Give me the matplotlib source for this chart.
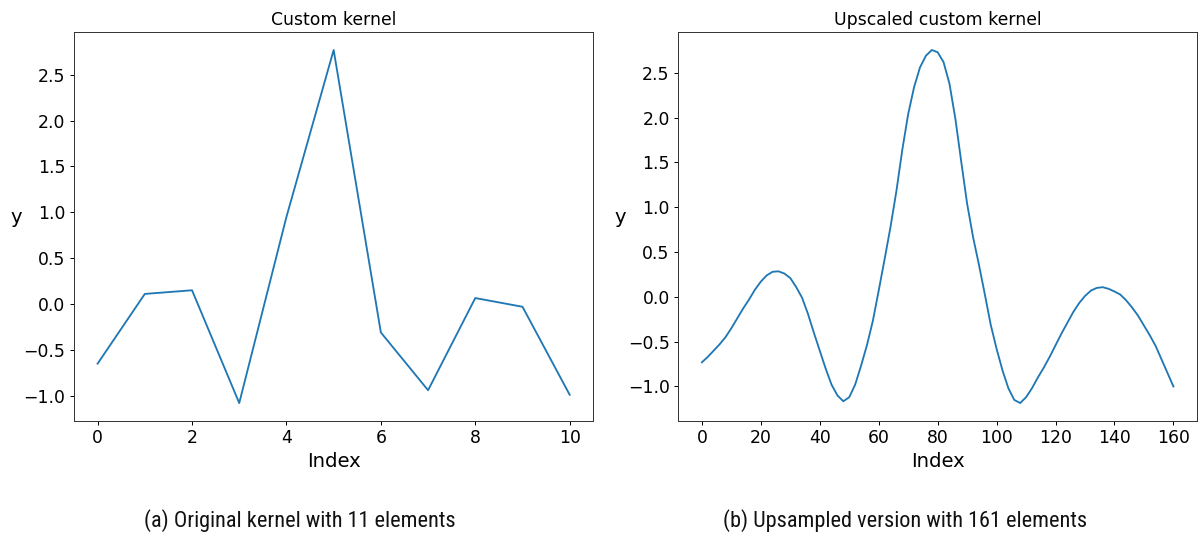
import matplotlib
matplotlib.use("Agg")
import matplotlib.pyplot as plt
from matplotlib import font_manager

# Original 11-tap kernel
kernel_index = [0, 1, 2, 3, 4, 5, 6, 7, 8, 9, 10]
kernel_values = [-0.65, 0.11, 0.15, -1.08, 0.95, 2.77, -0.31, -0.94, 0.065, -0.03, -0.99]

# Upsampled kernel (161 samples), taken every second sample
upsampled_index = list(range(0, 161, 2))
upsampled_values = [
    -0.73, -0.67, -0.60, -0.53, -0.45, -0.35, -0.24, -0.13, -0.03, 0.08,    # 0-18
    0.17, 0.24, 0.28, 0.285, 0.26, 0.21, 0.11, -0.01, -0.19, -0.40,         # 20-38
    -0.60, -0.80, -0.98, -1.10, -1.165, -1.12, -0.98, -0.77, -0.54, -0.27,  # 40-58
    0.07, 0.42, 0.78, 1.18, 1.64, 2.04, 2.34, 2.56, 2.69, 2.755,            # 60-78
    2.73, 2.62, 2.38, 1.99, 1.51, 1.04, 0.67, 0.36, 0.03, -0.31,            # 80-98
    -0.58, -0.82, -1.02, -1.15, -1.185, -1.12, -1.02, -0.90, -0.79, -0.67,  # 100-118
    -0.54, -0.41, -0.29, -0.17, -0.07, 0.01, 0.07, 0.10, 0.108, 0.09,       # 120-138
    0.06, 0.025, -0.04, -0.12, -0.21, -0.32, -0.43, -0.55, -0.70, -0.85,    # 140-158
    -1.00,                                                                  # 160
]

titles = ["Custom kernel", "Upscaled custom kernel"]
captions = ["(a) Original kernel with 11 elements",
            "(b) Upsampled version with 161 elements"]

s = 0.885
tick_fs = 14 * s
label_fs = 16 * s

available = {f.name for f in font_manager.fontManager.ttflist}
caption_family = [f for f in ["Roboto Condensed", "Liberation Sans Narrow", "Open Sans", "DejaVu Sans"]
                  if f in available][:1] + ["DejaVu Sans"]

plt.rcParams["font.family"] = ["DejaVu Sans"]
plt.rcParams["axes.linewidth"] = 0.8 * s
plt.rcParams["xtick.major.size"] = 3.5 * s
plt.rcParams["ytick.major.size"] = 3.5 * s
plt.rcParams["xtick.major.width"] = 0.8 * s
plt.rcParams["ytick.major.width"] = 0.8 * s
plt.rcParams["xtick.major.pad"] = 3.5 * s
plt.rcParams["ytick.major.pad"] = 3.5 * s

fig = plt.figure(figsize=(12, 5.38), dpi=100)
ax1 = fig.add_axes([0.06167, 0.2180, 0.43275, 0.7219])
ax2 = fig.add_axes([0.56525, 0.2180, 0.43225, 0.7219])

ax1.plot(kernel_index, kernel_values, color="#1f77b4", linewidth=1.5 * s)
ax2.plot(upsampled_index, upsampled_values, color="#1f77b4", linewidth=1.5 * s)

for ax, title, ylab_x in [(ax1, titles[0], -0.1107), (ax2, titles[1], -0.1114)]:
    ax.set_title(title, fontsize=tick_fs, pad=6 * s)
    ax.set_xlabel("Index", fontsize=label_fs, labelpad=4 * s)
    ax.set_ylabel("y", fontsize=label_fs, rotation=0)
    ax.yaxis.set_label_coords(ylab_x, 0.5)
    ax.tick_params(labelsize=tick_fs)
    for sp in ax.spines.values():
        sp.set_color("#333333")

ax1.set_xticks([0, 2, 4, 6, 8, 10])
ax2.set_xticks([0, 20, 40, 60, 80, 100, 120, 140, 160])

fig.text(300 / 1200, 1 - 521 / 538, captions[0], ha="center", va="center",
         fontsize=16, family=caption_family, color="#111111")
fig.text(905 / 1200, 1 - 521 / 538, captions[1], ha="center", va="center",
         fontsize=16, family=caption_family, color="#111111")

fig.savefig("out.png", dpi=100)
